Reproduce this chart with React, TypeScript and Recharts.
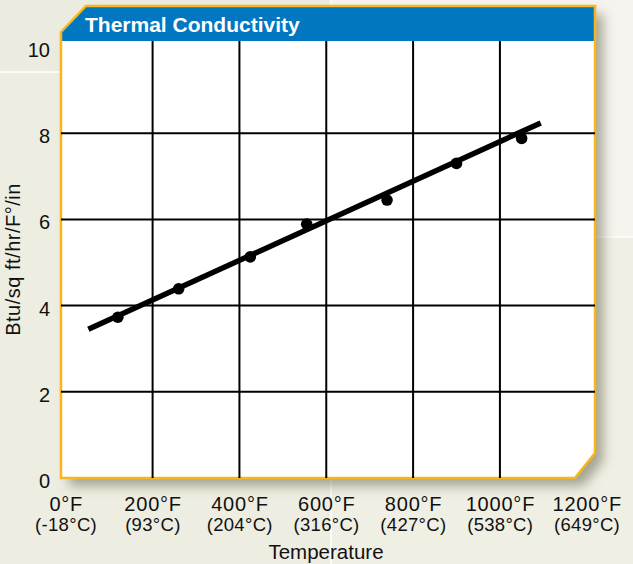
import React from 'react';
import { ScatterChart, XAxis, YAxis, Scatter, ReferenceLine } from 'recharts';

// ---------- data ----------
const temperatureF = [120, 260, 425, 555, 740, 900, 1050];
const conductivity = [3.73, 4.39, 5.13, 5.89, 6.45, 7.3, 7.88];
const trendTemperatureF = [52, 1094];
const trendConductivity = [3.45, 8.24];

const xTickValues = [0, 200, 400, 600, 800, 1000, 1200];
const xTickLabelsF = ['0°F', '200°F', '400°F', '600°F', '800°F', '1000°F', '1200°F'];
const xTickLabelsC = ['(-18°C)', '(93°C)', '(204°C)', '(316°C)', '(427°C)', '(538°C)', '(649°C)'];
const yTickValues = [0, 2, 4, 6, 8, 10];
const verticalGridValues = [200, 400, 600, 800, 1000];
const horizontalGridValues = [2, 4, 6, 8];

const chartTitle = 'Thermal Conductivity';
const xAxisTitle = 'Temperature';
const yAxisTitle = 'Btu/sq ft/hr/F°/in';

// ---------- layout / style ----------
const W = 633;
const H = 564;
const PLOT_LEFT = 61;
const PLOT_RIGHT = 595;
const PLOT_TOP = 41;
const PLOT_BOTTOM = 478;
const FRAME_TOP = 6;
const CUT_TL_X = 25;
const CUT_TL_Y = 26;
const CUT_BR_X = 20;
const CUT_BR_Y = 25;
const FONT = '"Liberation Sans", Arial, Helvetica, sans-serif';
const BLUE = '#0077c0';
const YELLOW = '#f7b51e';

const points = temperatureF.map((t, i) => ({ x: t, y: conductivity[i] }));
const trendSegment = trendTemperatureF.map((t, i) => ({ x: t, y: trendConductivity[i] }));

const XTick = (props: any) => {
  const { x, y, payload } = props;
  const idx = xTickValues.indexOf(payload.value);
  return (
    <g>
      <text x={x + 0.5} y={y + 33} textAnchor="middle" fontFamily={FONT} fontSize={20} letterSpacing={0.8} fill="#111">
        {xTickLabelsF[idx]}
      </text>
      <text x={x + 0.3} y={y + 52.5} textAnchor="middle" fontFamily={FONT} fontSize={18.5} letterSpacing={0.3} fill="#111">
        {xTickLabelsC[idx]}
      </text>
    </g>
  );
};

const YTick = (props: any) => {
  const { x, y, payload } = props;
  return (
    <text x={x} y={y + 10} textAnchor="end" fontFamily={FONT} fontSize={20} fill="#111">
      {payload.value}
    </text>
  );
};

const XTitle = (props: any) => {
  const vb = props.viewBox || { x: PLOT_LEFT, y: PLOT_BOTTOM, width: PLOT_RIGHT - PLOT_LEFT };
  return (
    <text x={vb.x + vb.width / 2 - 2} y={vb.y + 81} textAnchor="middle" fontFamily={FONT} fontSize={20.5} fill="#111">
      {xAxisTitle}
    </text>
  );
};

const YTitle = (props: any) => {
  const vb = props.viewBox || { x: 0, y: PLOT_TOP, height: PLOT_BOTTOM - PLOT_TOP };
  const cx = 20;
  const cy = vb.y + vb.height / 2;
  return (
    <text
      x={cx}
      y={cy}
      transform={`rotate(-90, ${cx}, ${cy})`}
      textAnchor="middle"
      fontFamily={FONT}
      fontSize={20}
      letterSpacing={0.5}
      fill="#111"
    >
      {yAxisTitle}
    </text>
  );
};

const Frame = () => {
  const outline = [
    [PLOT_LEFT, FRAME_TOP + CUT_TL_Y],
    [PLOT_LEFT + CUT_TL_X, FRAME_TOP],
    [PLOT_RIGHT, FRAME_TOP],
    [PLOT_RIGHT, PLOT_BOTTOM - CUT_BR_Y],
    [PLOT_RIGHT - CUT_BR_X, PLOT_BOTTOM],
    [PLOT_LEFT, PLOT_BOTTOM],
  ]
    .map((p) => p.join(','))
    .join(' ');
  const band = [
    [PLOT_LEFT, FRAME_TOP + CUT_TL_Y],
    [PLOT_LEFT + CUT_TL_X, FRAME_TOP],
    [PLOT_RIGHT, FRAME_TOP],
    [PLOT_RIGHT, PLOT_TOP],
    [PLOT_LEFT, PLOT_TOP],
  ]
    .map((p) => p.join(','))
    .join(' ');
  return (
    <svg width={W} height={H} style={{ position: 'absolute', left: 0, top: 0 }}>
      <defs>
        <filter id="shadow" x="-10%" y="-10%" width="130%" height="130%">
          <feDropShadow dx="8" dy="8" stdDeviation="6" floodColor="#6f6f5c" floodOpacity="0.6" />
        </filter>
      </defs>
      {/* background tiles */}
      <rect x={0} y={0} width={W} height={H} fill="#fbfbf7" />
      <rect x={0} y={0} width={330} height={71} fill="#ecebdf" />
      <rect x={332} y={0} width={W - 332} height={236} fill="#f5f4ee" />
      <rect x={0} y={73} width={330} height={H - 73} fill="#eeede1" />
      <rect x={332} y={238} width={W - 332} height={H - 238} fill="#f0efe3" />
      <polygon points={outline} fill="#ffffff" filter="url(#shadow)" />
      <polygon points={band} fill={BLUE} />
      <polygon points={outline} fill="none" stroke={YELLOW} strokeWidth={2.5} strokeLinejoin="miter" />
      <text x={85} y={32} fontFamily={FONT} fontWeight="bold" fontSize={21} fill="#ffffff">
        {chartTitle}
      </text>
    </svg>
  );
};

export default function App() {
  return (
    <div style={{ position: 'fixed', left: 0, top: 0, width: W, height: H, overflow: 'hidden' }}>
      <Frame />
      <div style={{ position: 'absolute', left: 0, top: 0 }}>
        <ScatterChart
          width={W}
          height={H}
          margin={{ top: PLOT_TOP, right: W - PLOT_RIGHT, bottom: 0, left: 0 }}
        >
          <XAxis
            type="number"
            dataKey="x"
            domain={[-11, 1219]}
            ticks={xTickValues}
            allowDataOverflow
            axisLine={false}
            tickLine={false}
            tickSize={0}
            tickMargin={0}
            height={H - PLOT_BOTTOM}
            tick={<XTick />}
            interval={0}
            label={<XTitle />}
          />
          <YAxis
            type="number"
            dataKey="y"
            domain={[0, 10.14]}
            ticks={yTickValues}
            allowDataOverflow
            axisLine={false}
            tickLine={false}
            tickSize={0}
            tickMargin={11}
            width={PLOT_LEFT}
            tick={<YTick />}
            interval={0}
            label={<YTitle />}
          />
          {verticalGridValues.map((v) => (
            <ReferenceLine key={'vx' + v} x={v} stroke="#000" strokeWidth={2} />
          ))}
          {horizontalGridValues.map((v) => (
            <ReferenceLine key={'hy' + v} y={v} stroke="#000" strokeWidth={2} />
          ))}
          <ReferenceLine segment={trendSegment} stroke="#000" strokeWidth={5.5} />
          <Scatter
            data={points}
            isAnimationActive={false}
            fill="#000"
            shape={(p: any) => <circle cx={p.cx} cy={p.cy} r={5.8} fill="#000" />}
          />
        </ScatterChart>
      </div>
    </div>
  );
}
